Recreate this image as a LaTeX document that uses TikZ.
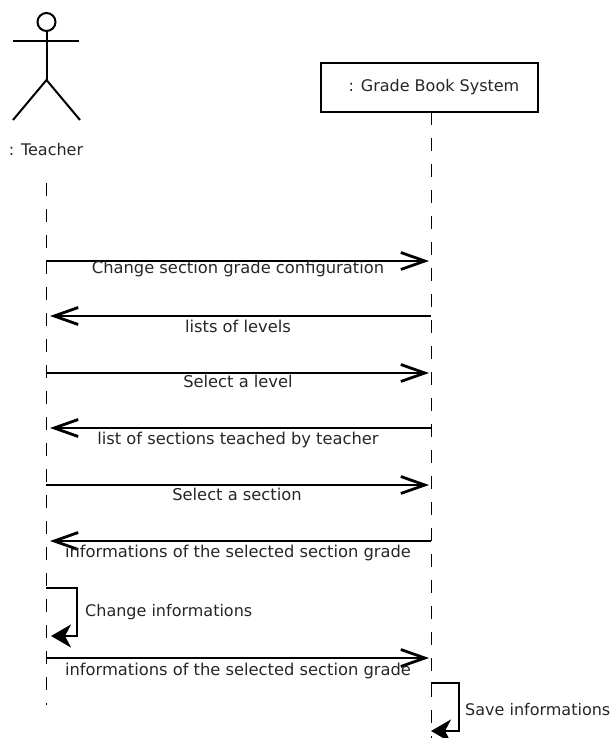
\documentclass[tikz,border=0pt]{standalone}
\usepackage{fontspec}
\setmainfont{DejaVu Sans}
\usetikzlibrary{arrows.meta}
\tikzset{
	lifeline/.style={line width=1pt, dash pattern=on 13pt off 13pt},
	msg/.style={line width=2.4pt, -{Straight Barb[length=24pt,width=17pt,line width=2.8pt]}},
	selfmsg/.style={line width=2.4pt, -{Stealth[length=20pt,width=23pt,inset=6pt]}},
	lbl/.style={inner sep=0pt, font=\fontsize{16}{18}\selectfont, text=black!85},
	msglbl/.style={lbl, font=\fontsize{16.3}{18}\selectfont}
}
\begin{document}
\begin{tikzpicture}[x=1pt,y=-1pt]
\useasboundingbox (0,0) rectangle (611,738);

\node[draw, line width=2.4pt, minimum width=217pt, minimum height=49pt, inner sep=0pt] (sys) at (429.5,87.5) {};
\node[lbl] (syslabel) at (434,87) {: Grade Book System};
\coordinate (sysend) at (431,738);
\coordinate (systop) at (431,112);
\draw[lifeline] (systop) -- (sysend);

\coordinate (teachtop) at (46,183);
\coordinate (teachend) at (46,705);
\draw[lifeline] (teachtop) -- (teachend);

\node[draw, circle, line width=2pt, minimum size=18pt, inner sep=0pt] (head) at (46.5,22) {};
\coordinate (armL) at (13,41);
\coordinate (armR) at (79,41);
\coordinate (hip) at (46.5,80);
\coordinate (legL) at (13,120);
\coordinate (legR) at (80,120);
\draw[line width=2pt] (armL) -- (armR);
\draw[line width=2pt] (head) -- (hip);
\draw[line width=2pt] (legL) -- (hip) -- (legR);
\node[lbl] (teacher) at (46,150) {: Teacher};

\coordinate (t1) at (46,261);
\coordinate (s1) at (429,261);
\coordinate (t2) at (50,316);
\coordinate (s2) at (431,316);
\coordinate (t3) at (46,373);
\coordinate (s3) at (429,373);
\coordinate (t4) at (50,428);
\coordinate (s4) at (431,428);
\coordinate (t5) at (46,485);
\coordinate (s5) at (429,485);
\coordinate (t6) at (50,541);
\coordinate (s6) at (431,541);
\coordinate (t7) at (46,658);
\coordinate (s7) at (429,658);

\draw[msg] (t1) -- (s1);
\draw[msg] (s2) -- (t2);
\draw[msg] (t3) -- (s3);
\draw[msg] (s4) -- (t4);
\draw[msg] (t5) -- (s5);
\draw[msg] (s6) -- (t6);
\draw[msg] (t7) -- (s7);

\node[msglbl] (m1) at (238,269) {Change section grade configuration};
\node[msglbl] (m2) at (238,326) {lists of levels};
\node[msglbl] (m3) at (238,381) {Select a level};
\node[msglbl] (m4) at (238,440) {list of sections teached by teacher};
\node[msglbl] (m5) at (237,494) {Select a section};
\node[msglbl] (m6) at (238,553) {informations of the selected section grade};
\node[msglbl] (m7) at (238,671) {informations of the selected section grade};

\coordinate (a1) at (46,588);
\coordinate (a2) at (51,636);
\draw[selfmsg] (a1) -- (77,588) -- (77,636) -- (a2);
\node[lbl, anchor=west] (m8) at (85,612) {Change informations};

\coordinate (b1) at (431,683);
\coordinate (b2) at (431,731);
\draw[selfmsg] (b1) -- (459,683) -- (459,731) -- (b2);
\node[lbl, anchor=west] (m9) at (465,710) {Save informations};
\end{tikzpicture}
\end{document}
